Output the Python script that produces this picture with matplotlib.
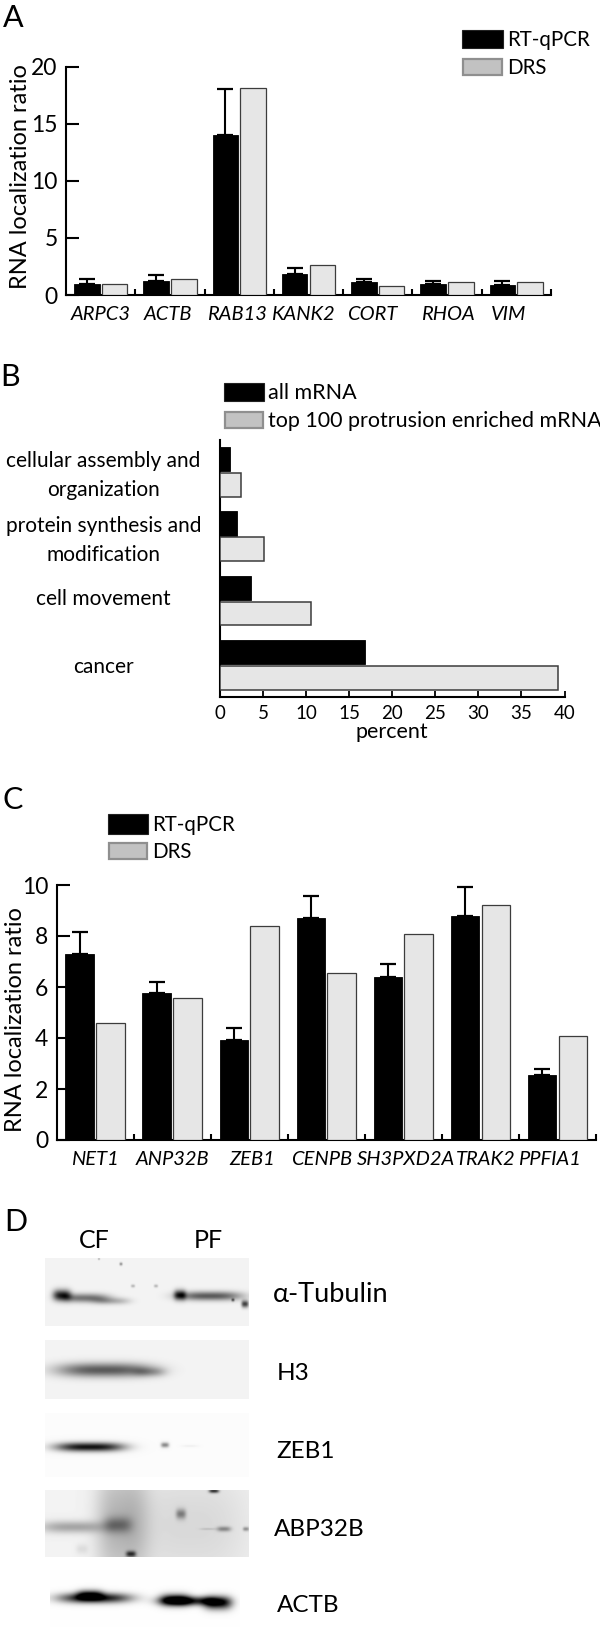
import numpy as np
import matplotlib
matplotlib.use('Agg')
import matplotlib.pyplot as plt
from matplotlib.patches import Rectangle
from matplotlib.transforms import ScaledTranslation

plt.rcParams['font.family'] = ['Lato', 'DejaVu Sans']

# ---- Panel A data
genes_a = ['ARPC3', 'ACTB', 'RAB13', 'KANK2', 'CORT', 'RHOA', 'VIM']
qpcr_a = [1.0, 1.2, 14.0, 1.8, 1.1, 1.0, 0.9]
qpcr_a_top = [1.4, 1.75, 18.05, 2.4, 1.4, 1.2, 1.2]
drs_a = [1.0, 1.4, 18.2, 2.65, 0.75, 1.15, 1.1]
ticks_a = [0, 5, 10, 15, 20]

# ---- Panel B data
terms_b = ['cellular assembly and\norganization', 'protein synthesis and\nmodification',
           'cell movement', 'cancer']
all_b = [1.15, 1.95, 3.55, 16.8]
top_b = [2.4, 5.1, 10.6, 39.3]
ticks_b = [0, 5, 10, 15, 20, 25, 30, 35, 40]

# ---- Panel C data
genes_c = ['NET1', 'ANP32B', 'ZEB1', 'CENPB', 'SH3PXD2A', 'TRAK2', 'PPFIA1']
qpcr_c = [7.28, 5.75, 3.92, 8.7, 6.4, 8.78, 2.55]
qpcr_c_top = [8.15, 6.2, 4.4, 9.55, 6.9, 9.93, 2.8]
drs_c = [4.58, 5.58, 8.4, 6.55, 8.08, 9.2, 4.07]
ticks_c = [0, 2, 4, 6, 8, 10]

W, H = 600, 1634
GREY = '#e6e6e6'
EDGE = '#3c3c3c'
fig = plt.figure(figsize=(W / 100, H / 100), dpi=100, facecolor='white')


def axes_px(l, r, top, bottom):
    return fig.add_axes([l / W, 1 - bottom / H, (r - l) / W, (bottom - top) / H])


def shift(label, dx_px=0, dy_px=0):
    label.set_transform(label.get_transform() +
                        ScaledTranslation(dx_px / 100, -dy_px / 100, fig.dpi_scale_trans))


def style(ax):
    for s in ('top', 'right'):
        ax.spines[s].set_visible(False)
    for s in ('left', 'bottom'):
        ax.spines[s].set_linewidth(1.5)


def ratio_panel(box, genes, qpcr, tops, drs, yticks, ymax, offs, ylabel_xy, labelsize, lab_pad):
    ax = axes_px(*box)
    style(ax)
    x = np.arange(len(genes)) + 0.5
    ax.bar(x - 0.2, qpcr, 0.37, color='black', edgecolor='black', linewidth=0.6, zorder=3)
    ax.bar(x + 0.2, drs, 0.37, color=GREY, edgecolor=EDGE, linewidth=0.9, zorder=3)
    err = np.array(tops) - np.array(qpcr)
    ax.errorbar(x - 0.2, qpcr, yerr=[np.zeros_like(err), err], fmt='none', ecolor='black',
                elinewidth=1.5, capsize=6, capthick=1.6, zorder=2)
    ax.set_xlim(0, len(genes))
    ax.set_ylim(0, ymax)
    ax.set_yticks(yticks)
    ax.tick_params(axis='y', direction='in', length=9, width=1.5, pad=6, labelsize=16.5)
    ax.set_xticks(np.arange(1, len(genes) + 1))
    ax.set_xticklabels([])
    ax.tick_params(axis='x', which='major', direction='in', length=4, width=1.5)
    ax.set_xticks(x, minor=True)
    ax.set_xticklabels(genes, minor=True, style='italic', fontsize=labelsize)
    ax.tick_params(axis='x', which='minor', length=0, pad=lab_pad)
    for lab, o in zip(ax.xaxis.get_minorticklabels(), offs):
        shift(lab, o)
    fig.text(ylabel_xy[0] / W, 1 - ylabel_xy[1] / H, 'RNA localization ratio', rotation=90,
             ha='center', va='center', fontsize=17)
    return ax


ratio_panel((66, 551, 67, 295), genes_a, qpcr_a, qpcr_a_top, drs_a, ticks_a, 20,
            [0, -2, -2, -6, -6, 1, -8], (21, 177), 14.5, 8)
ratio_panel((56.5, 596, 885, 1140), genes_c, qpcr_c, qpcr_c_top, drs_c, ticks_c, 10,
            [0, 0, 3, -5, 3, 5, -8], (16, 1020), 14.5, 8)

# ---- Panel B
axb = axes_px(220, 564.5, 440, 697)
style(axb)
yb = np.arange(len(terms_b)) + 0.5
axb.barh(yb - 0.2, all_b, 0.38, color='black', edgecolor='black', linewidth=0.6, zorder=3)
axb.barh(yb + 0.2, top_b, 0.37, color=GREY, edgecolor=EDGE, linewidth=1.1, zorder=3)
axb.set_xlim(0, 40)
axb.set_ylim(4, 0)
axb.set_xticks(ticks_b)
axb.tick_params(axis='x', direction='in', length=4, width=1.3, pad=6, labelsize=13.5)
axb.set_yticks(yb)
axb.set_yticklabels(terms_b, ha='center', multialignment='center', fontsize=15, linespacing=1.55)
axb.tick_params(axis='y', length=0, pad=84)
for lab, o in zip(axb.get_yticklabels(), [-3, -2, -4, 0]):
    shift(lab, 0, o)
axb.set_xlabel('percent', fontsize=15.5, labelpad=0)

# ---- Overlay in pixel coordinates: legends, panel letters, blots
ov = fig.add_axes([0, 0, 1, 1], zorder=5)
ov.patch.set_alpha(0)
ov.axis('off')

LEG_BLACK = dict(facecolor='black', edgecolor='#222222', linewidth=0.8)
LEG_GREY = dict(facecolor='#c2c2c2', edgecolor='#8f8f8f', linewidth=1.6)


def legend_row(x0, x1, y0, y1, style_kw, text, tx, fs=14.8):
    ov.add_patch(Rectangle((x0, y0), x1 - x0, y1 - y0, **style_kw))
    ov.text(tx, (y0 + y1) / 2 + 1, text, va='center', ha='left', fontsize=fs)


legend_row(462, 503, 30, 48, LEG_BLACK, 'RT-qPCR', 507)
legend_row(463, 502, 59, 75, LEG_GREY, 'DRS', 507)
legend_row(224, 264, 383, 401, LEG_BLACK, 'all mRNA', 268, 15.5)
legend_row(225, 263, 412, 428, LEG_GREY, 'top 100 protrusion enriched mRNA', 268, 15.5)
legend_row(108, 148, 814, 834, LEG_BLACK, 'RT-qPCR', 152)
legend_row(109, 147, 843, 859, LEG_GREY, 'DRS', 152)

for letter, lx, ly in [('A', 3, 18), ('B', 0, 377), ('C', 3, 800), ('D', 4, 1222)]:
    ov.text(lx, ly, letter, fontsize=22, ha='left', va='center')

# ---- Panel D: blots. Band lists: (centre x, centre y, half-width x, half-width y, darkness)
blot_tub = [(62, 1295, 9, 5.5, .75), (85, 1298, 24, 4.5, .5), (112, 1301, 18, 3.5, .25),
            (180, 1295, 6, 5, .7), (210, 1296, 32, 4.5, .6), (245, 1304, 3.5, 3.5, .7),
            (233, 1300, 1.5, 1.5, .5), (133, 1286, 2, 1.5, .25), (156, 1286, 2, 1.5, .25),
            (121, 1264, 1.5, 1.5, .4), (99, 1259, 1, 1, .3)]
blot_h3 = [(105, 1370, 48, 7, .6), (150, 1372, 16, 4.5, .22)]
blot_zeb = [(90, 1447, 34, 4.5, .92), (165, 1445, 4, 2.5, .45), (190, 1446, 8, 1, .05)]
blot_abp = [(72, 1527, 32, 6, .3), (118, 1525, 14, 8, .3), (122, 1523, 26, 60, .24),
            (190, 1525, 60, 60, .1), (181, 1514, 5, 5, .38), (131, 1554, 5, 3, .6),
            (214, 1491, 5, 2, .7), (224, 1529, 7, 2.5, .35), (246, 1529, 3, 2, .35),
            (208, 1529, 8, 1, .12), (82, 1549, 6, 5, .08)]
blot_actb = [(95, 1598, 36, 5, .92), (90, 1595, 13, 5, .7), (190, 1601, 30, 4.5, .85),
             (218, 1603, 14, 6.5, .9), (175, 1600, 15, 6, .8)]
panels = [('tub', blot_tub, 45, 249, 1258, 1326, .955), ('h3', blot_h3, 45, 249, 1340, 1399, .955),
          ('zeb', blot_zeb, 45, 249, 1413, 1477, .985), ('abp', blot_abp, 45, 249, 1490, 1557, .95),
          ('actb', blot_actb, 50, 240, 1570, 1627, .995)]

for _, bands, x0, x1, y0, y1, bg in panels:
    xs = np.arange(x0, x1, 0.5) + 0.25
    ys = np.arange(y0, y1, 0.5) + 0.25
    gx, gy = np.meshgrid(xs, ys)
    img = np.full(gx.shape, float(bg))
    for cx, cy, sx, sy, amp in bands:
        img -= amp * np.exp(-np.abs((gx - cx) / sx) ** 3 - ((gy - cy) / sy) ** 2)
    ov.imshow(np.clip(img, 0, 1), cmap='gray', vmin=0, vmax=1, extent=(x0, x1, y1, y0),
              aspect='auto', interpolation='bilinear')

blot_labels = [('α-Tubulin', 273, 1294, 19.5), ('H3', 277, 1373, 17.5), ('ZEB1', 276, 1451, 17.5),
               ('ABP32B', 274, 1529, 17.5), ('ACTB', 277, 1605, 17.5)]
for txt, tx, ty, fs in blot_labels:
    ov.text(tx, ty, txt, fontsize=fs, ha='left', va='center')
ov.text(94, 1240, 'CF', fontsize=18, ha='center', va='center')
ov.text(208, 1240, 'PF', fontsize=18, ha='center', va='center')

ov.set_xlim(0, W)
ov.set_ylim(H, 0)
fig.savefig('out.png', dpi=100, facecolor='white')
